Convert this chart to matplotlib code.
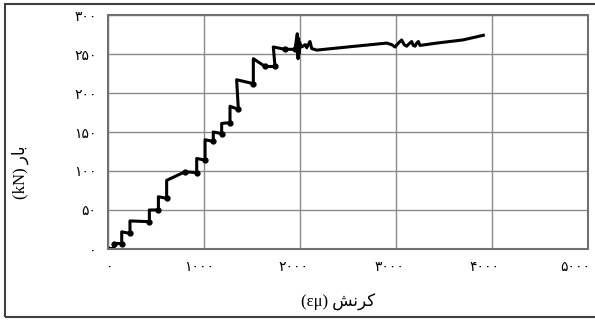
import matplotlib.pyplot as plt
from matplotlib.patches import Rectangle
from matplotlib.transforms import ScaledTranslation

# load-strain curve (strain in micro-strain, load in kN)
strain = [8, 68, 68, 148, 148, 234, 234, 436, 436, 530, 530, 616, 616, 807, 929, 929,
          1016, 1016, 1102, 1102, 1189, 1189, 1276, 1276, 1363, 1345, 1519, 1519, 1641,
          1745, 1727, 1849, 1953, 1977, 1985, 1990, 1995, 2000, 2023, 2060, 2075, 2100,
          2109, 2127, 2179, 2500, 2908, 2960, 2995, 3030, 3064, 3090, 3116, 3140, 3168,
          3185, 3203, 3220, 3238, 3255, 3429, 3700, 3915]
load = [0, 1, 7, 7, 22, 20, 36, 35, 50, 50, 67, 65, 88, 99, 98, 116,
        114, 140, 138, 150, 148, 161, 162, 183, 179, 217, 212, 244, 234,
        234, 259, 256, 256, 276, 244, 270, 250, 265, 259, 262, 258, 264,
        266, 257, 255, 259, 264, 262, 259, 264, 268, 262, 260, 263, 266,
        261, 260, 264, 266, 261, 264, 268, 274]

# markers at the step corners
mark_x = [8, 68, 148, 234, 436, 530, 616, 807, 929, 1016, 1102, 1189, 1276, 1363,
          1519, 1641, 1745, 1849, 1953]
mark_y = [0, 7, 7, 20, 35, 50, 65, 99, 98, 114, 138, 148, 162, 179,
          212, 234, 234, 256, 256]

fa_digits = str.maketrans('0123456789', '۰۱۲۳۴۵۶۷۸۹')
x_ticks = [0, 1000, 2000, 3000, 4000, 5000]
y_ticks = [0, 50, 100, 150, 200, 250, 300]

# presentation forms, written in visual (left to right) order
xlabel = '(εμ) ' + '\ufeb6\ufee7\ufeae\ufb90'
ylabel = '(kN) ' + '\ufead\ufe8e\ufe91'

fig = plt.figure(figsize=(5.95, 3.2), dpi=100)
ax = fig.add_axes([0.1807, 0.2219, 0.8067, 0.7312])

ax.plot(strain, load, color='black', lw=2.2, solid_joinstyle='round')
ax.plot(mark_x, mark_y, 'o', color='black', ms=3.5)

ax.set_xlim(0, 5000)
ax.set_ylim(0, 300)
ax.set_xticks(x_ticks)
ax.set_yticks(y_ticks)
ax.set_xticklabels([str(t).translate(fa_digits) for t in x_ticks], fontsize=10,
                   family=['DejaVu Sans'])
ax.set_yticklabels([str(t).translate(fa_digits) for t in y_ticks], fontsize=10,
                   family=['DejaVu Sans'])
ax.tick_params(length=0, pad=8)

# x labels sit a little left of their ticks in the original
shifts = [2, -4, -6, -6, -7, -12]
for lab, dx in zip(ax.get_xticklabels(), shifts):
    lab.set_transform(lab.get_transform() + ScaledTranslation(dx / 100, 0, fig.dpi_scale_trans))

ax.grid(color='#8a8a8a', lw=1)
for s in ax.spines.values():
    s.set_color('#707070')
    s.set_linewidth(1.5)

fig.text(0.568, 0.056, xlabel, ha='center', va='center', fontsize=12,
         family=['Liberation Serif', 'DejaVu Sans'])
fig.text(0.034, 0.463, ylabel, ha='center', va='center', rotation=90, fontsize=12,
         family=['Liberation Serif', 'DejaVu Sans'])

fig.patches.append(Rectangle((5 / 595, 3 / 320), 1.0, 1 - 7 / 320, transform=fig.transFigure,
                             fill=False, edgecolor='#404040', lw=1.5))

fig.savefig('out.png', dpi=100)
